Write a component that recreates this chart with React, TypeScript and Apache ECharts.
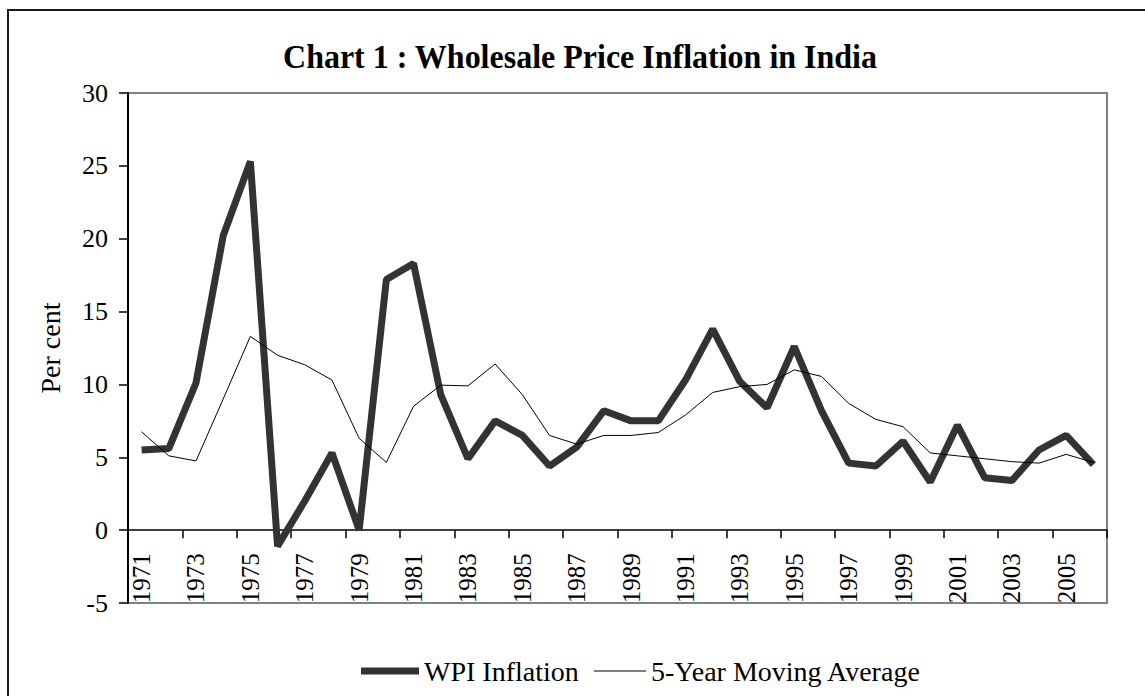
import React, { useEffect, useRef } from "react";
import * as echarts from "echarts";

const years = [
  "1971", "1972", "1973", "1974", "1975", "1976", "1977", "1978", "1979", "1980",
  "1981", "1982", "1983", "1984", "1985", "1986", "1987", "1988", "1989", "1990",
  "1991", "1992", "1993", "1994", "1995", "1996", "1997", "1998", "1999", "2000",
  "2001", "2002", "2003", "2004", "2005", "2006",
];

const wpiInflation = [
  5.5, 5.6, 10.1, 20.2, 25.3, -1.1, 2.0, 5.3, 0.0, 17.2,
  18.3, 9.3, 4.9, 7.5, 6.5, 4.4, 5.7, 8.2, 7.5, 7.5,
  10.3, 13.8, 10.2, 8.4, 12.6, 8.2, 4.6, 4.4, 6.1, 3.3,
  7.2, 3.6, 3.4, 5.5, 6.5, 4.5,
];

const movingAverage = [
  6.75, 5.1, 4.75, 9.0, 13.3, 12.0, 11.35, 10.3, 6.3, 4.65,
  8.5, 9.95, 9.9, 11.4, 9.3, 6.5, 5.9, 6.5, 6.5, 6.7,
  7.9, 9.45, 9.85, 10.0, 11.0, 10.55, 8.7, 7.6, 7.1, 5.3,
  5.1, 4.9, 4.7, 4.6, 5.2, 4.65,
];

const seriesNames = ["WPI Inflation", "5-Year Moving Average"];
const titleText = "Chart 1 : Wholesale Price Inflation in India";
const yAxisName = "Per cent";

const FONT = "'Liberation Serif', 'Times New Roman', serif";

const Y_MIN = -5;
const Y_MAX = 30;
const GRID_TOP = 93;
const GRID_BOTTOM = 93;
const HEIGHT = 696;

export default function App() {
  const ref = useRef<HTMLDivElement>(null);

  useEffect(() => {
    if (!ref.current) return;
    const chart = echarts.init(ref.current, null, { renderer: "svg" });
    const plotH = HEIGHT - GRID_TOP - GRID_BOTTOM;
    // move the category axis from the bottom of the grid up to the zero line
    const zeroOffset = -(plotH * (0 - Y_MIN)) / (Y_MAX - Y_MIN);

    const legendText = { fontFamily: FONT, fontSize: 28, color: "#000" };

    chart.setOption({
      animation: false,
      backgroundColor: "#ffffff",
      textStyle: { fontFamily: FONT, color: "#000" },
      graphic: [
        {
          type: "rect",
          shape: { x: 8, y: 10, width: 1200, height: 800 },
          style: { fill: "none", stroke: "#1a1a1a", lineWidth: 2 },
          silent: true,
        },
        {
          type: "text",
          x: 580,
          y: 56,
          scaleY: 1.08,
          style: {
            text: titleText,
            x: 0,
            y: 0,
            textAlign: "center",
            textVerticalAlign: "middle",
            font: `bold 32px ${FONT}`,
            fill: "#000",
          },
        },
      ],
      grid: {
        left: 128,
        right: 38,
        top: GRID_TOP,
        bottom: GRID_BOTTOM,
        show: true,
        borderColor: "#808080",
        borderWidth: 2,
        backgroundColor: "transparent",
      },
      legend: [
        {
          left: 356,
          top: 652,
          icon: "rect",
          itemWidth: 58,
          itemHeight: 7,
          itemGap: 14,
          textStyle: legendText,
          data: [seriesNames[0]],
        },
        {
          left: 589,
          top: 652,
          icon: "rect",
          itemWidth: 52,
          itemHeight: 1,
          itemGap: 14,
          textStyle: legendText,
          data: [seriesNames[1]],
        },
      ],
      xAxis: {
        type: "category",
        data: years,
        boundaryGap: true,
        offset: zeroOffset,
        axisLine: { onZero: false, lineStyle: { color: "#000", width: 1.5 } },
        axisTick: { show: true, interval: 1, length: 8, lineStyle: { color: "#000", width: 1.5 } },
        axisLabel: {
          interval: 1,
          rotate: 90,
          margin: 23,
          fontFamily: FONT,
          fontSize: 25,
          color: "#000",
        },
        splitLine: { show: false },
      },
      yAxis: {
        type: "value",
        min: Y_MIN,
        max: Y_MAX,
        interval: 5,
        name: yAxisName,
        nameLocation: "middle",
        nameGap: 64,
        nameTextStyle: { fontFamily: FONT, fontSize: 28, color: "#000" },
        axisLine: { show: true, lineStyle: { color: "#000", width: 2 } },
        axisTick: { show: true, length: 9, lineStyle: { color: "#000", width: 1.5 } },
        axisLabel: { margin: 20, fontFamily: FONT, fontSize: 26, color: "#000" },
        splitLine: { show: false },
      },
      series: [
        {
          name: seriesNames[0],
          type: "line",
          data: wpiInflation,
          symbol: "none",
          lineStyle: { color: "#333333", width: 7 },
          itemStyle: { color: "#333333" },
        },
        {
          name: seriesNames[1],
          type: "line",
          data: movingAverage,
          symbol: "none",
          lineStyle: { color: "#000000", width: 1 },
          itemStyle: { color: "#000000" },
        },
      ],
    });
    return () => chart.dispose();
  }, []);

  return (
    <div
      ref={ref}
      style={{ position: "fixed", left: 0, top: 0, width: 1145, height: 696 }}
    />
  );
}
